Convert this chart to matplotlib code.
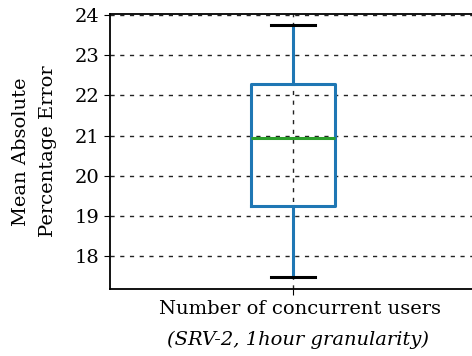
import matplotlib
matplotlib.use("Agg")
import matplotlib.pyplot as plt

# box statistics
label = "Number of concurrent users"
sublabel = "(SRV-2, 1hour granularity)"
whislo = 17.48
q1 = 19.25
med = 20.94
q3 = 22.28
whishi = 23.76
yticks = [18, 19, 20, 21, 22, 23, 24]

plt.rcParams['font.family'] = ['DejaVu Serif']

fig = plt.figure(figsize=(4.72, 3.56), dpi=100)
ax = fig.add_axes([110/472, 67/356, 366/472, 275/356])

stats = [dict(whislo=whislo, q1=q1, med=med, q3=q3, whishi=whishi, fliers=[], label="")]
ax.bxp(stats, positions=[1], widths=0.23, showfliers=False,
       boxprops=dict(color='#1f77b4', linewidth=2.2),
       whiskerprops=dict(color='#1f77b4', linewidth=2.2),
       capprops=dict(color='black', linewidth=2.2),
       medianprops=dict(color='#2ca02c', linewidth=2.2),
       capwidths=0.12)

ax.set_xlim(0.5, 1.5)
ax.set_ylim(17.18, 24.03)
ax.set_yticks(yticks)
ax.set_xticks([1])
ax.set_xticklabels([""])
ax.grid(True, linestyle=(0, (3, 4)), color='#222222', linewidth=1.0)
ax.set_axisbelow(True)
ax.tick_params(labelsize=14, direction='out', length=4)
ax.set_ylabel("Mean Absolute\nPercentage Error", fontsize=14, labelpad=13, linespacing=1.6)
fig.text(300/472, 1 - 309/356, label, ha='center', va='center', fontsize=14)
fig.text(298/472, 1 - 340/356, sublabel, ha='center', va='center', fontsize=14, style='italic')
for s in ax.spines.values():
    s.set_linewidth(1.3)

fig.savefig("out.png", dpi=100)
